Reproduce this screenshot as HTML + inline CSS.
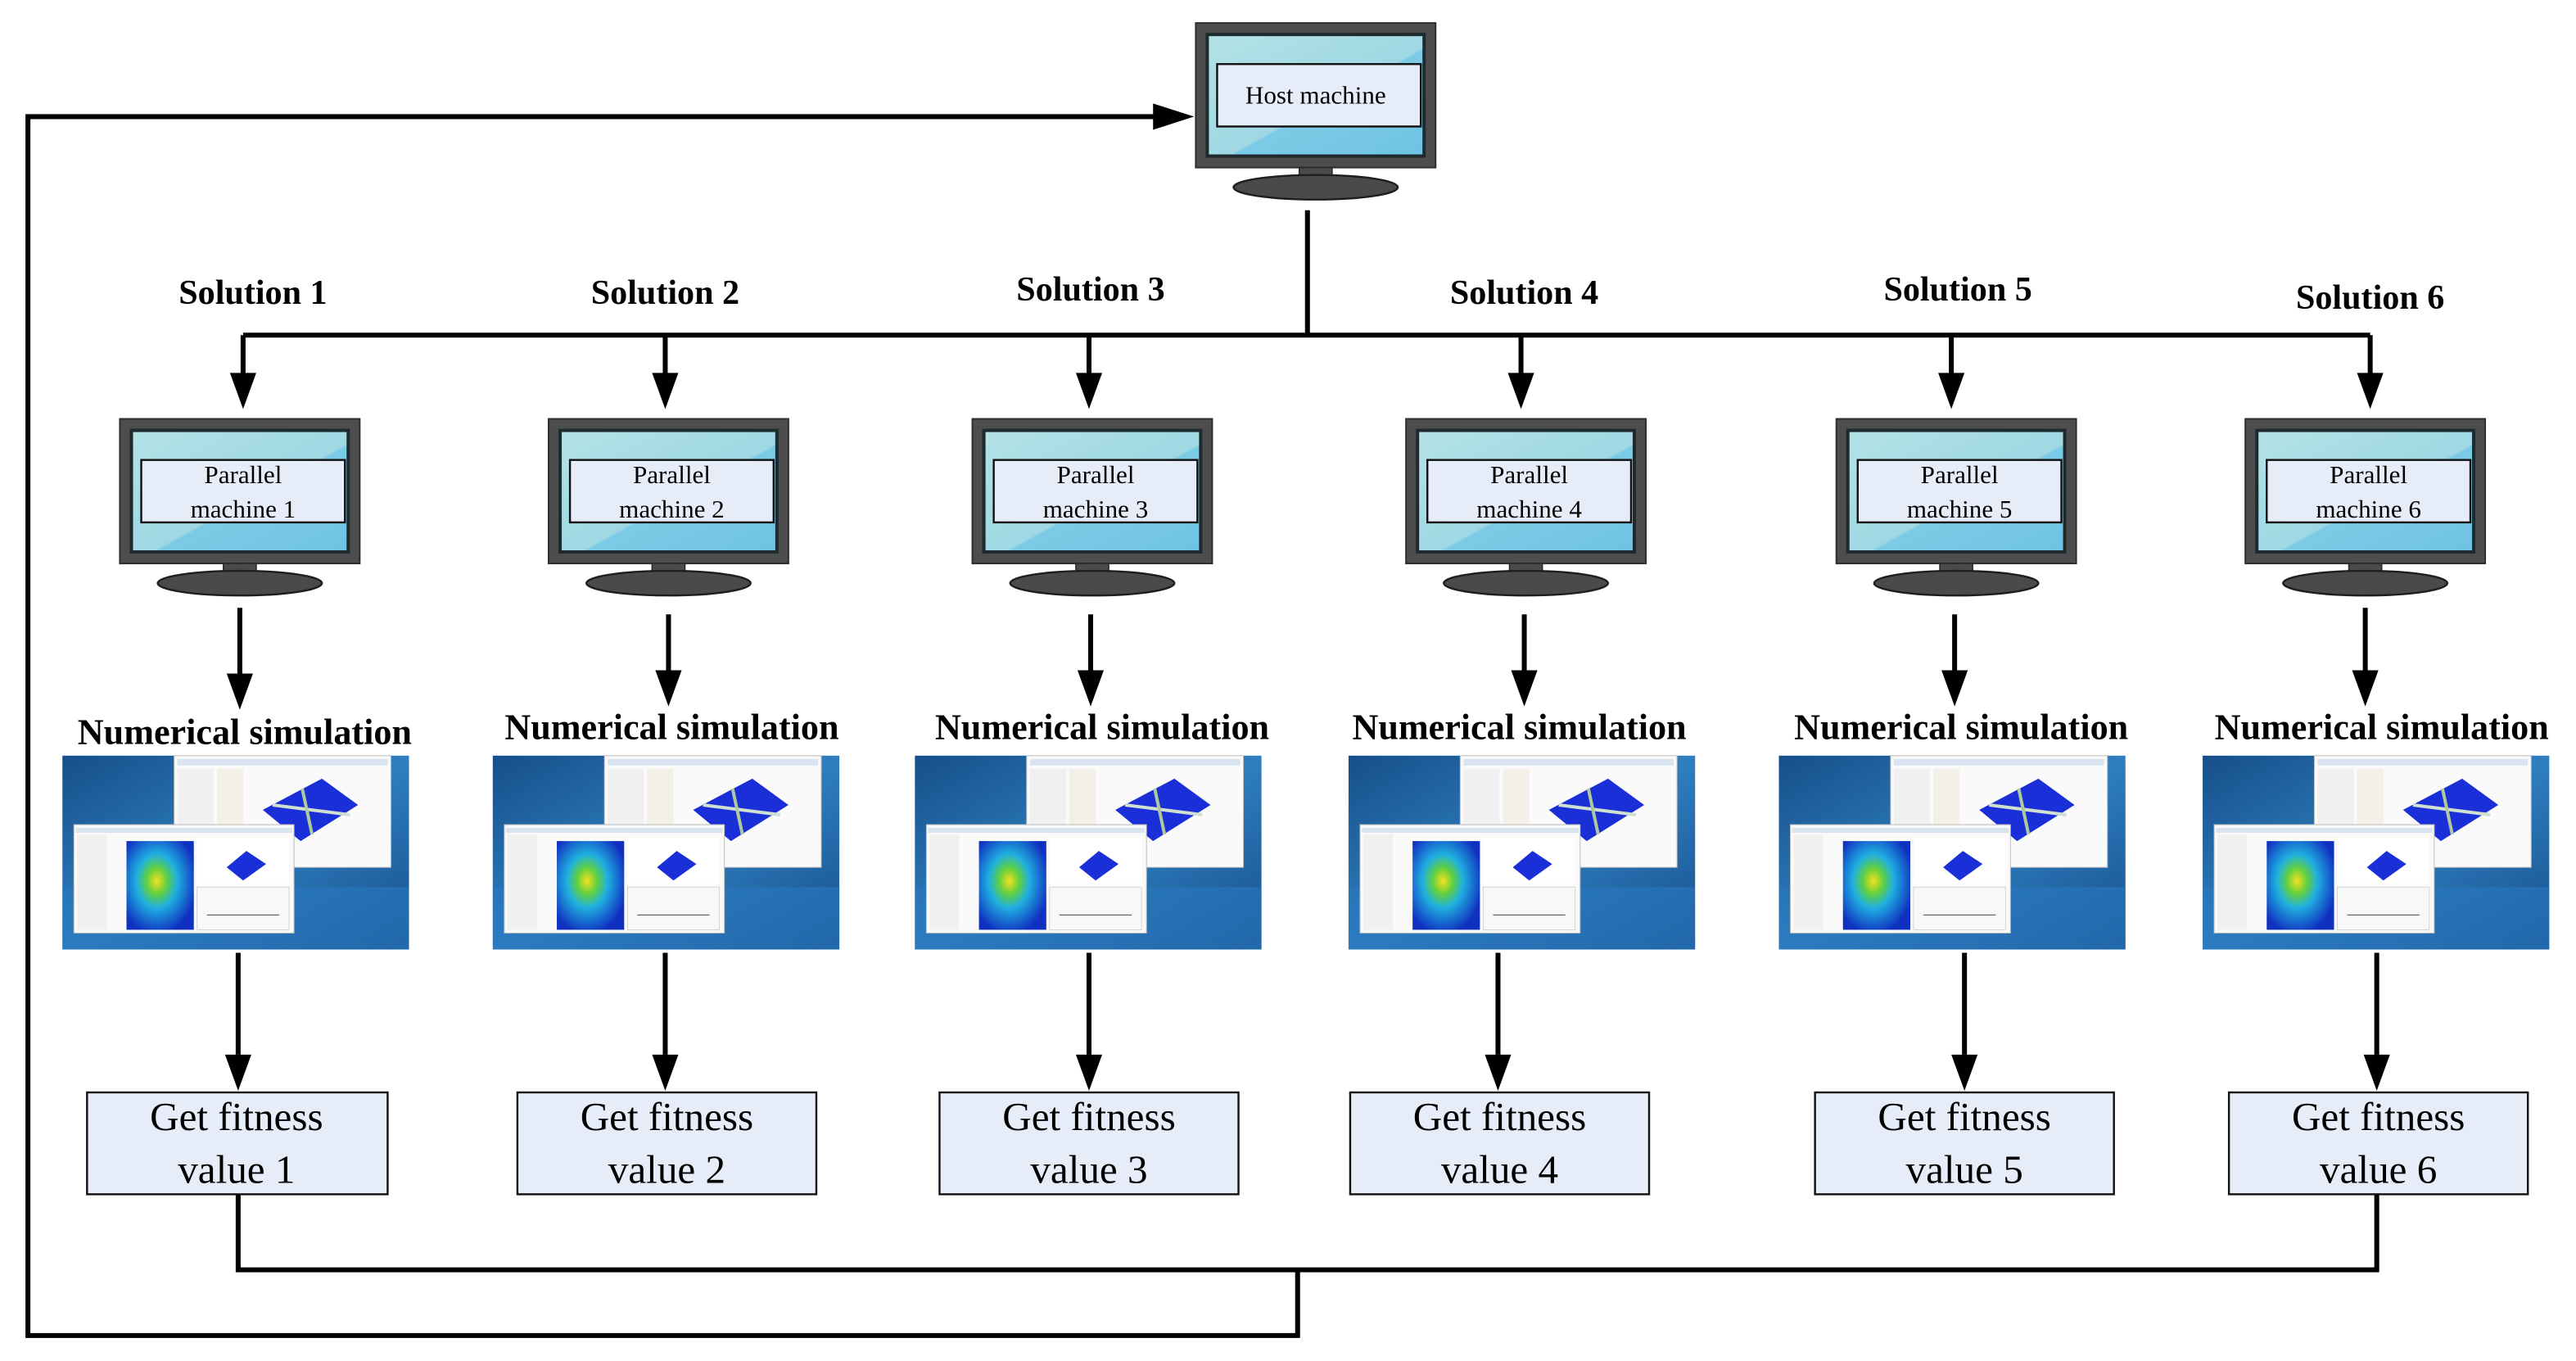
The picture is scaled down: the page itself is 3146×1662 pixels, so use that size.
<!DOCTYPE html>
<html><head><meta charset="utf-8"><style>
html,body{margin:0;padding:0;background:#fff;}
svg{display:block;}
svg, svg text{font-family:"Liberation Serif","Times New Roman",Times,serif !important;}
</style></head><body>
<svg width="3146" height="1662" viewBox="0 0 1568.3 828.5" preserveAspectRatio="none" xmlns="http://www.w3.org/2000/svg" style="font-family:'Liberation Serif','Times New Roman',Times,serif">
<defs>
<linearGradient id="scr" x1="0" y1="0" x2="1" y2="1">
<stop offset="0" stop-color="#b3e2e6"/><stop offset="0.55" stop-color="#9fd8e4"/><stop offset="0.56" stop-color="#7ccbe6"/><stop offset="1" stop-color="#6fc3e3"/>
</linearGradient>
<g id="mon">
<rect x="0" y="0" width="146" height="88" fill="#4d4d4d" stroke="#2e2e2e" stroke-width="1"/>
<rect x="6" y="6" width="134" height="76" fill="#1e2a2e"/>
<rect x="8" y="8" width="130" height="72" fill="url(#scr)"/>
<rect x="63" y="88" width="20" height="11" fill="#4a4a4a" stroke="#2a2a2a" stroke-width="0.8"/>
<ellipse cx="73" cy="100" rx="50" ry="7.5" fill="#4a4a4a" stroke="#1e1e1e" stroke-width="1.2"/>
<rect x="13" y="25" width="124" height="38" fill="#e6edf8" stroke="#111" stroke-width="1.2"/>
</g>
<linearGradient id="bg" x1="0" y1="0" x2="1" y2="1">
<stop offset="0" stop-color="#164f8a"/><stop offset="0.5" stop-color="#2f7fc0"/><stop offset="1" stop-color="#174f8c"/>
</linearGradient>
<radialGradient id="heat" cx="0.45" cy="0.45" r="0.6">
<stop offset="0" stop-color="#f4e020"/><stop offset="0.25" stop-color="#60d040"/><stop offset="0.5" stop-color="#20b0e0"/><stop offset="1" stop-color="#1030c0"/>
</radialGradient>
<g id="sim">
<rect x="0" y="0" width="211" height="118" fill="url(#bg)"/>
<rect x="0" y="80" width="211" height="38" fill="#2a78c0" opacity="0.6"/>
<rect x="68" y="0" width="132" height="68" fill="#fafafa" stroke="#bbb" stroke-width="0.5"/>
<rect x="70" y="2" width="128" height="4" fill="#d8e4f0"/>
<rect x="70" y="8" width="22" height="56" fill="#f0f0f0"/>
<rect x="94" y="8" width="16" height="56" fill="#f4f0e8"/>
<polygon points="122,33 158,14 180,30 145,52" fill="#1a2fd8"/>
<line x1="128" y1="30" x2="175" y2="36" stroke="#d0e0d0" stroke-width="2"/>
<line x1="146" y1="20" x2="152" y2="48" stroke="#b0c8a0" stroke-width="2"/>
<rect x="7" y="42" width="134" height="66" fill="#fafafa" stroke="#bbb" stroke-width="0.5"/>
<rect x="8" y="44" width="132" height="3" fill="#d8e4f0"/>
<rect x="9" y="48" width="18" height="58" fill="#f0f0f0"/>
<rect x="39" y="52" width="41" height="54" fill="url(#heat)"/>
<rect x="82" y="50" width="56" height="28" fill="#fff"/>
<polygon points="100,68 112,58 124,66 110,76" fill="#1a2fd8"/>
<rect x="82" y="80" width="56" height="26" fill="#f8f8f8" stroke="#ccc" stroke-width="0.4"/>
<line x1="88" y1="97" x2="132" y2="97" stroke="#666" stroke-width="0.6"/>
</g>
<g id="ah"><polygon points="-8,-22 8,-22 0,0" fill="#000"/></g>
</defs>

<use href="#mon" x="728" y="14"/>
<text x="801" y="63" font-size="15.5" text-anchor="middle" font-family="Liberation Serif, serif">Host machine</text>

<g stroke="#000" stroke-width="3" fill="none">
<line x1="796" y1="128" x2="796" y2="204"/>
<line x1="148" y1="204" x2="1443" y2="204"/>
<line x1="148" y1="204" x2="148" y2="230"/>
<line x1="405" y1="204" x2="405" y2="230"/>
<line x1="663" y1="204" x2="663" y2="230"/>
<line x1="926" y1="204" x2="926" y2="230"/>
<line x1="1188" y1="204" x2="1188" y2="230"/>
<line x1="1443" y1="204" x2="1443" y2="230"/>
<line x1="146" y1="370" x2="146" y2="412"/>
<line x1="407" y1="374" x2="407" y2="412"/>
<line x1="664" y1="374" x2="664" y2="412"/>
<line x1="928" y1="374" x2="928" y2="412"/>
<line x1="1190" y1="374" x2="1190" y2="412"/>
<line x1="1440" y1="370" x2="1440" y2="412"/>
<line x1="145" y1="580" x2="145" y2="642"/>
<line x1="405" y1="580" x2="405" y2="642"/>
<line x1="663" y1="580" x2="663" y2="642"/>
<line x1="912" y1="580" x2="912" y2="642"/>
<line x1="1196" y1="580" x2="1196" y2="642"/>
<line x1="1447" y1="580" x2="1447" y2="642"/>
<polyline points="145,727 145,773 1447,773 1447,727"/>
<polyline points="790,773 790,813 17,813 17,71 705,71"/>
</g>
<use href="#ah" x="148" y="249"/><use href="#ah" x="405" y="249"/><use href="#ah" x="663" y="249"/>
<use href="#ah" x="926" y="249"/><use href="#ah" x="1188" y="249"/><use href="#ah" x="1443" y="249"/>
<use href="#ah" x="146" y="432"/><use href="#ah" x="407" y="430"/><use href="#ah" x="664" y="430"/>
<use href="#ah" x="928" y="430"/><use href="#ah" x="1190" y="430"/><use href="#ah" x="1440" y="430"/>
<use href="#ah" x="145" y="664"/><use href="#ah" x="405" y="664"/><use href="#ah" x="663" y="664"/>
<use href="#ah" x="912" y="664"/><use href="#ah" x="1196" y="664"/><use href="#ah" x="1447" y="664"/>
<polygon points="702,63 702,79 727,71" fill="#000"/>

<g font-size="21" font-weight="bold" text-anchor="middle" font-family="Liberation Serif, serif">
<text x="154" y="185">Solution 1</text>
<text x="405" y="185">Solution 2</text>
<text x="664" y="183">Solution 3</text>
<text x="928" y="185">Solution 4</text>
<text x="1192" y="183">Solution 5</text>
<text x="1443" y="188">Solution 6</text>
</g>

<use href="#mon" x="73" y="255"/><use href="#mon" x="334" y="255"/><use href="#mon" x="592" y="255"/>
<use href="#mon" x="856" y="255"/><use href="#mon" x="1118" y="255"/><use href="#mon" x="1367" y="255"/>
<g font-size="15.5" text-anchor="middle" font-family="Liberation Serif, serif">
<text x="148" y="294">Parallel</text><text x="148" y="315">machine 1</text>
<text x="409" y="294">Parallel</text><text x="409" y="315">machine 2</text>
<text x="667" y="294">Parallel</text><text x="667" y="315">machine 3</text>
<text x="931" y="294">Parallel</text><text x="931" y="315">machine 4</text>
<text x="1193" y="294">Parallel</text><text x="1193" y="315">machine 5</text>
<text x="1442" y="294">Parallel</text><text x="1442" y="315">machine 6</text>
</g>

<g font-size="22" font-weight="bold" text-anchor="middle" font-family="Liberation Serif, serif">
<text x="149" y="453">Numerical simulation</text>
<text x="409" y="450">Numerical simulation</text>
<text x="671" y="450">Numerical simulation</text>
<text x="925" y="450">Numerical simulation</text>
<text x="1194" y="450">Numerical simulation</text>
<text x="1450" y="450">Numerical simulation</text>
</g>
<use href="#sim" x="38" y="460"/><use href="#sim" x="300" y="460"/><use href="#sim" x="557" y="460"/>
<use href="#sim" x="821" y="460"/><use href="#sim" x="1083" y="460"/><use href="#sim" x="1341" y="460"/>

<g fill="#e6edf8" stroke="#111" stroke-width="1.2">
<rect x="53" y="665" width="183" height="62"/>
<rect x="315" y="665" width="182" height="62"/>
<rect x="572" y="665" width="182" height="62"/>
<rect x="822" y="665" width="182" height="62"/>
<rect x="1105" y="665" width="182" height="62"/>
<rect x="1357" y="665" width="182" height="62"/>
</g>
<g font-size="24.5" text-anchor="middle" font-family="Liberation Serif, serif">
<text x="144" y="688">Get fitness</text><text x="144" y="720">value 1</text>
<text x="406" y="688">Get fitness</text><text x="406" y="720">value 2</text>
<text x="663" y="688">Get fitness</text><text x="663" y="720">value 3</text>
<text x="913" y="688">Get fitness</text><text x="913" y="720">value 4</text>
<text x="1196" y="688">Get fitness</text><text x="1196" y="720">value 5</text>
<text x="1448" y="688">Get fitness</text><text x="1448" y="720">value 6</text>
</g>
</svg>
</body></html>
